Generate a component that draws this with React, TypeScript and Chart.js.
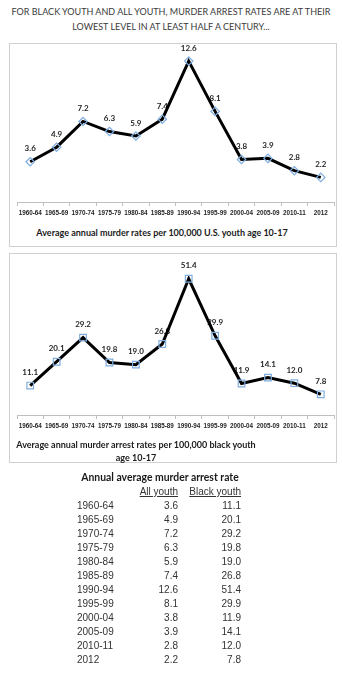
import React, { useEffect, useRef } from 'react';
import { Chart, registerables } from 'chart.js';

Chart.register(...registerables);

const periods = ['1960-64', '1965-69', '1970-74', '1975-79', '1980-84', '1985-89', '1990-94', '1995-99', '2000-04', '2005-09', '2010-11', '2012'];
const allYouth = [3.6, 4.9, 7.2, 6.3, 5.9, 7.4, 12.6, 8.1, 3.8, 3.9, 2.8, 2.2];
const blackYouth = [11.1, 20.1, 29.2, 19.8, 19.0, 26.8, 51.4, 29.9, 11.9, 14.1, 12.0, 7.8];

const mainTitle = ['FOR BLACK YOUTH AND ALL YOUTH, MURDER ARREST RATES ARE AT THEIR', 'LOWEST LEVEL IN AT LEAST HALF A CENTURY...'];
const subtitle1 = ['Average annual murder rates per 100,000 U.S. youth age 10-17'];
const subtitle2 = ['Average annual murder arrest rates per 100,000 black youth', 'age 10-17'];
const tableTitle = 'Annual average murder arrest rate';
const tableHeaders = ['All youth', 'Black youth'];

const FONT = 'Lato, "DejaVu Sans", sans-serif';
const ARIAL = '"Liberation Sans", Arial, sans-serif';

const labelPlugin = {
  id: 'valueLabels',
  beforeDatasetsDraw(chart: any) {
    const ctx = chart.ctx;
    const meta = chart.getDatasetMeta(0);
    const data = chart.data.datasets[0].data as number[];
    ctx.save();
    ctx.font = `bold 8px ${FONT}`;
    ctx.fillStyle = '#262626';
    ctx.textAlign = 'center';
    ctx.textBaseline = 'middle';
    meta.data.forEach((pt: any, i: number) => {
      ctx.fillText(data[i].toFixed(1), pt.x, pt.y - 13);
    });
    ctx.restore();
  },
};

type LineProps = {
  values: number[];
  yMax: number;
  pointStyle: string;
  pointRadius: number;
  top: number;
  height: number;
  padTop: number;
  padBottom: number;
};

function LineChart({ values, yMax, pointStyle, pointRadius, top, height, padTop, padBottom }: LineProps) {
  const ref = useRef<HTMLCanvasElement | null>(null);
  useEffect(() => {
    if (!ref.current) return;
    const chart = new Chart(ref.current, {
      type: 'line',
      data: {
        labels: periods,
        datasets: [
          {
            data: values,
            borderColor: '#000000',
            borderWidth: 3,
            pointStyle: pointStyle as any,
            pointRadius,
            pointBorderColor: '#7fade0',
            pointBackgroundColor: 'rgba(255,255,255,0)',
            pointBorderWidth: 1.2,
            tension: 0,
            clip: false as any,
          },
        ],
      },
      options: {
        animation: false,
        responsive: false,
        maintainAspectRatio: false,
        layout: { padding: { left: 17, right: 8, top: padTop, bottom: padBottom } },
        plugins: { legend: { display: false }, tooltip: { enabled: false }, title: { display: false } },
        scales: {
          x: {
            offset: true,
            grid: { display: true, drawOnChartArea: false, drawTicks: true, tickLength: 4, offset: true, color: '#bfbfbf' },
            border: { display: true, color: '#bfbfbf', width: 1 },
            ticks: {
              autoSkip: false,
              maxRotation: 0,
              minRotation: 0,
              padding: 3,
              color: '#262626',
              font: { family: ARIAL, size: 6.3, weight: 'bold' },
            },
            afterFit: (s: any) => {
              s.height = 20;
            },
          },
          y: { display: false, min: 0, max: yMax },
        },
      },
      plugins: [labelPlugin],
    });
    return () => chart.destroy();
  }, []);
  return (
    <canvas
      ref={ref}
      width={342}
      height={height}
      style={{ position: 'absolute', left: 0, top, width: 342, height }}
    />
  );
}

export default function App() {
  const rowTop = 499;
  const rowStep = 14.03;
  return (
    <div style={{ position: 'absolute', left: 0, top: 0, width: 342, height: 677, background: '#fff', overflow: 'hidden' }}>
      {mainTitle.map((t, i) => (
        <div
          key={i}
          style={{
            position: 'absolute', left: 0, width: 342, top: 5 + i * 15, textAlign: 'center',
            fontFamily: FONT, fontSize: 9, lineHeight: '14px', color: '#3a3a3a', whiteSpace: 'nowrap',
          }}
        >
          {t}
        </div>
      ))}
      <div style={{ position: 'absolute', left: 9, top: 43, width: 326, height: 202, border: '1px solid #d0d0d0' }} />
      <div style={{ position: 'absolute', left: 9, top: 253, width: 326, height: 208, border: '1px solid #d0d0d0' }} />
      <LineChart values={allYouth} yMax={14} pointStyle="rectRot" pointRadius={4.2} top={40} height={185} padTop={4} padBottom={3} />
      <LineChart values={blackYouth} yMax={60} pointStyle="rect" pointRadius={4.7} top={250} height={190} padTop={6} padBottom={5} />
      {subtitle1.map((t, i) => (
        <div key={i} style={{ position: 'absolute', left: 0, width: 324, top: 226 + i * 13, textAlign: 'center', fontFamily: FONT, fontWeight: 'bold', fontSize: 9, lineHeight: '13px', color: '#1a1a1a', whiteSpace: 'nowrap' }}>{t}</div>
      ))}
      {subtitle2.map((t, i) => (
        <div key={i} style={{ position: 'absolute', left: 0, width: 272, top: 438 + i * 13, textAlign: 'center', fontFamily: FONT, fontWeight: 'bold', fontSize: 9, lineHeight: '13px', color: '#1a1a1a', whiteSpace: 'nowrap' }}>{t}</div>
      ))}
      <div style={{ position: 'absolute', left: 60, width: 200, top: 470, textAlign: 'center', fontFamily: FONT, fontWeight: 'bold', fontSize: 10.4, lineHeight: '14px', color: '#1a1a1a', whiteSpace: 'nowrap' }}>{tableTitle}</div>
      <div style={{ position: 'absolute', left: 100, width: 78, top: 485, textAlign: 'right', fontFamily: ARIAL, fontSize: 10, lineHeight: '14px', color: '#333', textDecoration: 'underline' }}>{tableHeaders[0]}</div>
      <div style={{ position: 'absolute', left: 160, width: 81, top: 485, textAlign: 'right', fontFamily: ARIAL, fontSize: 10, lineHeight: '14px', color: '#333', textDecoration: 'underline' }}>{tableHeaders[1]}</div>
      {periods.map((p, i) => (
        <div key={p} style={{ position: 'absolute', left: 0, top: rowTop + i * rowStep, width: 342, height: 14, fontFamily: ARIAL, fontSize: 10, lineHeight: '14px', color: '#333' }}>
          <span style={{ position: 'absolute', left: 77 }}>{p}</span>
          <span style={{ position: 'absolute', right: 342 - 178 }}>{allYouth[i].toFixed(1)}</span>
          <span style={{ position: 'absolute', right: 342 - 241 }}>{blackYouth[i].toFixed(1)}</span>
        </div>
      ))}
    </div>
  );
}
